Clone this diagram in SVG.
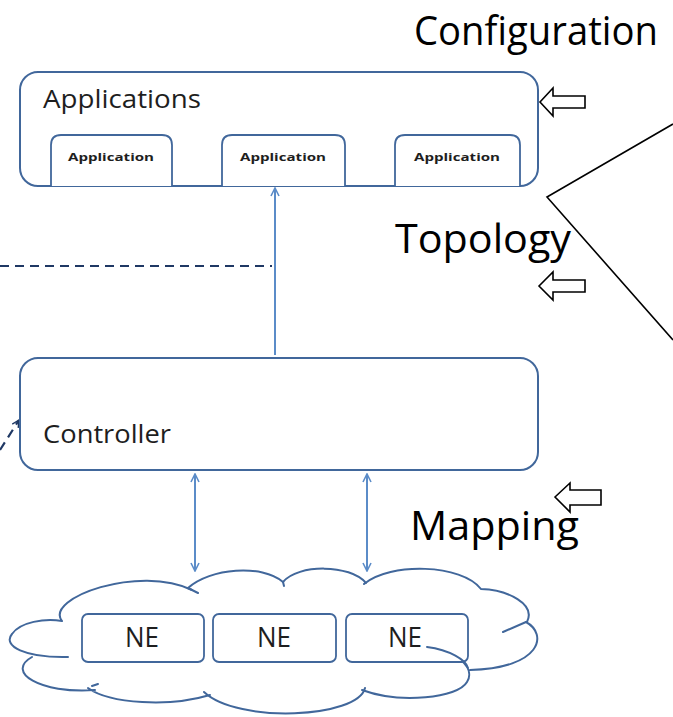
<svg xmlns="http://www.w3.org/2000/svg" width="673" height="717" viewBox="0 0 673 717">
  <style>
    .box { fill: #ffffff; stroke: #41679b; stroke-width: 2; }
    .inner { fill: #ffffff; stroke: #41679b; stroke-width: 1.8; }
    .cloud { fill: none; stroke: #41679b; stroke-width: 2; stroke-linecap: round; }
    .lbl { font-family: "Open Sans", "Noto Sans", sans-serif; fill: #1e1e1e; }
    .big { font-family: "Open Sans", "Noto Sans", sans-serif; font-size: 41px; fill: #000000; }
    .link { stroke: #5b8cc8; stroke-width: 2; fill: none; }
    .dash { stroke: #1f3864; stroke-width: 2.2; fill: none; stroke-dasharray: 9 6; }
    .block { fill: #ffffff; stroke: #000000; stroke-width: 1.6; stroke-linejoin: miter; }
  </style>
  <defs>
    <marker id="tip" viewBox="0 0 10 10" refX="9" refY="5" markerWidth="5" markerHeight="5" orient="auto-start-reverse" markerUnits="strokeWidth">
      <path d="M1,1 L9,5 L1,9" fill="none" stroke="#5b8cc8" stroke-width="1.6"/>
    </marker>
    <marker id="dtip" viewBox="0 0 10 10" refX="9" refY="5" markerWidth="4" markerHeight="4" orient="auto" markerUnits="strokeWidth">
      <path d="M1,1 L9,5 L1,9" fill="none" stroke="#1f3864" stroke-width="1.6"/>
    </marker>
  </defs>

  <!-- connectors -->
  <g id="connectors">
    <line class="link" x1="275" y1="355" x2="275" y2="188" marker-end="url(#tip)"/>
    <line class="link" x1="195" y1="474" x2="195" y2="571" marker-start="url(#tip)" marker-end="url(#tip)"/>
    <line class="link" x1="367" y1="474" x2="367" y2="571" marker-start="url(#tip)" marker-end="url(#tip)"/>
    <line class="dash" x1="0" y1="266" x2="272" y2="266"/>
    <line class="dash" x1="0" y1="450" x2="19" y2="420" marker-end="url(#dtip)"/>
    <!-- side lines on the right -->
    <polyline points="673,124 547,197 673,340" fill="none" stroke="#000000" stroke-width="1.6"/>
  </g>

  <!-- Applications layer -->
  <g id="applications">
    <rect class="box" x="20" y="72" width="518" height="114" rx="18"/>
    <text class="lbl" x="43" y="108" font-size="26" textLength="158" lengthAdjust="spacingAndGlyphs">Applications</text>
    <g id="app1">
      <path class="inner" d="M51,186 V145 Q51,135 61,135 H162 Q172,135 172,145 V186"/>
      <text class="lbl" x="111" y="161" font-size="10" font-weight="bold" text-anchor="middle" textLength="86" lengthAdjust="spacingAndGlyphs">Application</text>
    </g>
    <g id="app2">
      <path class="inner" d="M222,186 V145 Q222,135 232,135 H335 Q345,135 345,145 V186"/>
      <text class="lbl" x="283" y="161" font-size="10" font-weight="bold" text-anchor="middle" textLength="86" lengthAdjust="spacingAndGlyphs">Application</text>
    </g>
    <g id="app3">
      <path class="inner" d="M395,186 V145 Q395,135 405,135 H510 Q520,135 520,145 V186"/>
      <text class="lbl" x="457" y="161" font-size="10" font-weight="bold" text-anchor="middle" textLength="86" lengthAdjust="spacingAndGlyphs">Application</text>
    </g>
  </g>

  <!-- Controller -->
  <g id="controller">
    <rect class="box" x="20" y="358" width="518" height="112" rx="18"/>
    <text class="lbl" x="43" y="443" font-size="26" textLength="128" lengthAdjust="spacingAndGlyphs">Controller</text>
  </g>

  <!-- Network cloud -->
  <g id="network">
    <path class="cloud" d="M62,621 C44,598 140,564 192,590
      M188,588 C210,568 262,564 283,582
      M283,582 C298,564 350,564 366,583
      M364,584 C390,562 462,564 481,589
      M481,589 C508,590 536,604 527,622
      M526,622 C548,634 542,668 470,670
      M427,647 C456,650 476,668 467,682 C458,698 400,704 362,690
      M365,688 C358,718 238,724 204,692
      M210,695 C170,707 110,704 88,688
      M95,690 C40,694 5,672 32,657
      M68,657 C25,658 2,646 12,634 C20,622 45,618 62,621"/>
    <path class="cloud" d="M188,588 L198,593 M503,632 L526,622 M92,686 L98,684 M283,582 L284,586"/>
    <g id="ne1">
      <rect class="inner" x="82" y="614" width="122" height="48" rx="6"/>
      <text class="lbl" x="142" y="647" font-size="27" text-anchor="middle" textLength="34" lengthAdjust="spacingAndGlyphs">NE</text>
    </g>
    <g id="ne2">
      <rect class="inner" x="213" y="614" width="123" height="48" rx="6"/>
      <text class="lbl" x="274" y="647" font-size="27" text-anchor="middle" textLength="34" lengthAdjust="spacingAndGlyphs">NE</text>
    </g>
    <g id="ne3">
      <rect class="inner" x="346" y="614" width="122" height="48" rx="6"/>
      <text class="lbl" x="405" y="647" font-size="27" text-anchor="middle" textLength="34" lengthAdjust="spacingAndGlyphs">NE</text>
    </g>
    <path class="cloud" d="M427,647 C450,650 466,660 468,668"/>
  </g>

  <!-- Interface labels with block arrows -->
  <g id="configuration">
    <text class="big" x="414" y="45" font-size="38" textLength="244" lengthAdjust="spacingAndGlyphs">Configuration</text>
    <polygon class="block" points="540,102 553,88 553,96 585,96 585,108 553,108 553,116"/>
  </g>
  <g id="topology">
    <text class="big" x="395" y="253" textLength="176" lengthAdjust="spacingAndGlyphs">Topology</text>
    <polygon class="block" points="539,286 553,272 553,280 585,280 585,292 553,292 553,300"/>
  </g>
  <g id="mapping">
    <text class="big" x="410" y="540" textLength="169" lengthAdjust="spacingAndGlyphs">Mapping</text>
    <polygon class="block" points="555,497 570,483 570,490 601,490 601,505 570,505 570,512"/>
  </g>
</svg>
